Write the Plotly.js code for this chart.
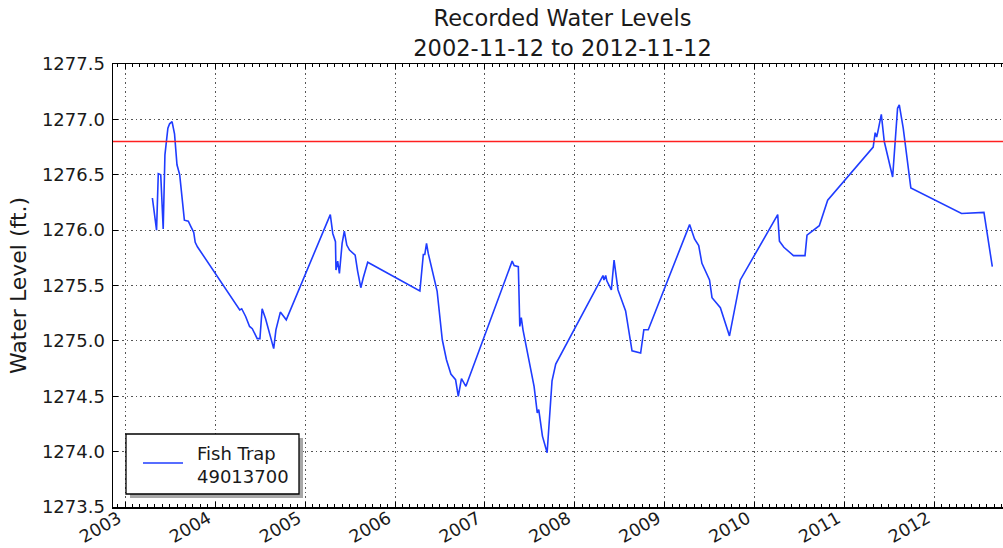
<!DOCTYPE html>
<html>
<head>
<meta charset="utf-8">
<script src="https://cdn.plot.ly/plotly-3.0.1.min.js"></script>
<style>
html, body { margin: 0; padding: 0; background: #fff; overflow: hidden; width: 1003px; height: 548px; }
#chart { width: 1020px; height: 548px; }
</style>
</head>
<body>
<div id="chart"></div>
<script>
// ---- data ----
const dates = [
  "2003-04-21","2003-05-08","2003-05-15","2003-05-25","2003-06-04","2003-06-11","2003-06-23","2003-06-30",
  "2003-07-10","2003-07-20","2003-07-30","2003-08-10","2003-08-29","2003-09-14","2003-09-25","2003-10-06",
  "2003-10-12","2003-10-21","2004-04-10","2004-04-18","2004-05-04","2004-05-20","2004-05-31","2004-06-20",
  "2004-07-01","2004-07-10","2004-07-24","2004-08-10","2004-08-26","2004-09-04","2004-09-22","2004-10-16",
  "2005-04-13","2005-04-23","2005-05-04","2005-05-06","2005-05-13","2005-05-20","2005-05-31","2005-06-09",
  "2005-06-19","2005-06-30","2005-07-23","2005-08-02","2005-08-15","2005-08-25","2005-09-12","2006-04-12",
  "2006-04-26","2006-05-02","2006-05-09","2006-05-16","2006-06-21","2006-07-12","2006-07-29","2006-08-16",
  "2006-09-04","2006-09-15","2006-09-28","2006-10-16","2007-04-22","2007-04-30","2007-05-17","2007-05-23",
  "2007-05-29","2007-06-05","2007-07-20","2007-08-02","2007-08-08","2007-08-23","2007-09-11","2007-10-01",
  "2007-10-16","2008-04-25","2008-04-29","2008-05-06","2008-05-11","2008-05-29","2008-06-09","2008-06-25",
  "2008-07-26","2008-08-21","2008-09-25","2008-10-08","2008-10-26","2009-04-12","2009-05-02","2009-05-19",
  "2009-06-01","2009-07-02","2009-07-12","2009-08-15","2009-09-21","2009-11-04","2010-04-05","2010-04-12",
  "2010-04-30","2010-06-08","2010-07-25","2010-08-02","2010-09-21","2010-10-25","2011-04-28","2011-05-06",
  "2011-05-12","2011-05-17","2011-05-31","2011-06-12","2011-07-16","2011-08-05","2011-08-12","2011-08-28",
  "2011-09-28","2012-04-21","2012-07-21","2012-08-24"
];
const waterLevels = [
  1276.29,1276.00,1276.51,1276.50,1276.01,1276.68,1276.92,1276.96,
  1276.98,1276.87,1276.59,1276.50,1276.09,1276.08,1276.03,1275.98,
  1275.89,1275.85,1275.28,1275.29,1275.22,1275.13,1275.11,1275.02,
  1275.02,1275.29,1275.20,1275.07,1274.93,1275.10,1275.26,1275.19,
  1276.14,1275.97,1275.895,1275.64,1275.72,1275.61,1275.88,1275.99,
  1275.865,1275.82,1275.775,1275.63,1275.48,1275.57,1275.71,1275.45,
  1275.78,1275.78,1275.88,1275.79,1275.45,1275.01,1274.83,1274.70,
  1274.65,1274.50,1274.66,1274.59,1275.72,1275.68,1275.67,1275.13,
  1275.21,1275.10,1274.59,1274.35,1274.38,1274.14,1273.99,1274.64,
  1274.79,1275.59,1275.55,1275.59,1275.54,1275.46,1275.73,1275.46,
  1275.27,1274.91,1274.89,1275.10,1275.10,1276.05,1275.92,1275.86,
  1275.70,1275.55,1275.39,1275.30,1275.045,1275.55,1276.14,1275.90,
  1275.845,1275.77,1275.77,1275.955,1276.04,1276.27,1276.75,1276.88,
  1276.84,1276.89,1277.045,1276.80,1276.48,1277.10,1277.13,1276.92,
  1276.38,1276.15,1276.16,1275.67
];
const seriesName = "Fish Trap<br>49013700";
const thresholdLevel = [1276.8];
const dateRange = ["2002-11-12", "2012-11-12"];
const levelRange = [1273.5, 1277.5];
const yearTickVals = ["2003-01-01","2004-01-01","2005-01-01","2006-01-01","2007-01-01",
                      "2008-01-01","2009-01-01","2010-01-01","2011-01-01","2012-01-01"];
const yearTickText = ["2003","2004","2005","2006","2007","2008","2009","2010","2011","2012"];
const levelTickVals = [1273.5,1274.0,1274.5,1275.0,1275.5,1276.0,1276.5,1277.0,1277.5];
const chartTitle = "Recorded Water Levels<br>2002-11-12 to 2012-11-12";
const yTitle = "Water Level (ft.)";

// ---- chart ----
const FONT = "DejaVu Sans, Liberation Sans, sans-serif";
const TXT = "#1a1a1a";
const LINE_COLOR = "#1f3cff";

// plot area in pixels: left 113, right 1012, top 64, bottom 507
const PL = 113, PW = 899, PB = 507, PH = 443;
const px = v => (v - PL) / PW;
const py = v => (PB - v) / PH;

const trace = {
  x: dates, y: waterLevels, type: "scatter", mode: "lines",
  name: seriesName,
  line: { color: LINE_COLOR, width: 1.6 },
  showlegend: false
};

const layout = {
  width: 1020, height: 548,
  margin: { l: PL, r: 1020 - PL - PW, t: 64, b: 548 - PB },
  paper_bgcolor: "#ffffff", plot_bgcolor: "#ffffff",
  font: { family: FONT, size: 18, color: TXT },
  title: {
    text: chartTitle,
    font: { family: FONT, size: 22.5, color: TXT },
    x: 0.5, xref: "paper", xanchor: "center",
    y: 0.952, yref: "container", yanchor: "top"
  },
  xaxis: {
    type: "date",
    range: dateRange,
    tickvals: yearTickVals, ticktext: yearTickText,
    tickangle: -30,
    ticklabelshift: -7,
    ticklabelstandoff: -7,
    ticks: "inside", ticklen: 5, tickwidth: 1, tickcolor: "#000",
    showline: true, linecolor: "#000", linewidth: 1.5, mirror: "allticks",
    showgrid: true, gridcolor: "#555", gridwidth: 1, griddash: "1.5px,3px",
    zeroline: false,
    minor: { dtick: "M1", tick0: "2003-01-01", ticks: "inside", ticklen: 3, tickcolor: "#000", tickwidth: 1, showgrid: false },
    tickfont: { family: FONT, size: 17.5, color: TXT },
    fixedrange: true
  },
  yaxis: {
    range: levelRange,
    tickvals: levelTickVals,
    tickformat: ".1f",
    ticks: "inside", ticklen: 5, tickwidth: 1, tickcolor: "#000",
    ticklabelstandoff: 3,
    showline: true, linecolor: "#000", linewidth: 1.5, mirror: "allticks",
    showgrid: true, gridcolor: "#555", gridwidth: 1, griddash: "1.5px,3px",
    zeroline: false,
    title: { text: yTitle, font: { family: FONT, size: 22, color: TXT }, standoff: 9 },
    tickfont: { family: FONT, size: 18, color: TXT },
    automargin: false,
    fixedrange: true
  },
  shapes: [
    { type: "line", xref: "paper", x0: 0, x1: 1, yref: "y", y0: thresholdLevel[0], y1: thresholdLevel[0],
      line: { color: "#ff2020", width: 1.5 }, layer: "above" },
    // legend shadow
    { type: "rect", xref: "paper", yref: "paper",
      x0: px(130), x1: px(303), y0: py(498), y1: py(438),
      fillcolor: "#a8a8a8", line: { width: 0 }, layer: "above" },
    // legend box
    { type: "rect", xref: "paper", yref: "paper",
      x0: px(126), x1: px(299), y0: py(494), y1: py(434),
      fillcolor: "#ffffff", line: { color: "#000", width: 1.3 }, layer: "above" },
    // legend line sample
    { type: "line", xref: "paper", yref: "paper",
      x0: px(143), x1: px(183), y0: py(463), y1: py(463),
      line: { color: LINE_COLOR, width: 1.6 }, layer: "above" }
  ],
  annotations: [
    { xref: "paper", yref: "paper", x: px(195), y: py(465), xanchor: "left", yanchor: "middle",
      align: "left", showarrow: false, text: seriesName,
      font: { family: FONT, size: 18, color: TXT } }
  ],
  showlegend: false
};

Plotly.newPlot("chart", [trace], layout, { displayModeBar: false, staticPlot: true });
</script>
</body>
</html>
